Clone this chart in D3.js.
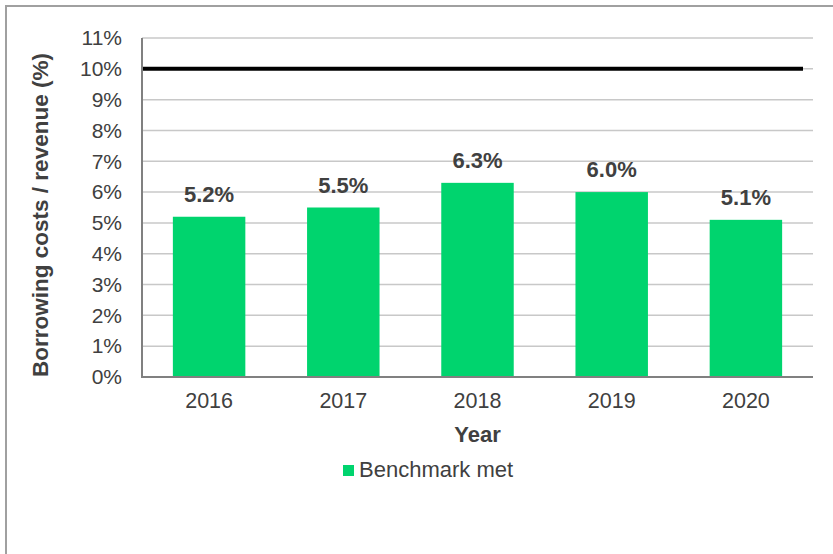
<!DOCTYPE html>
<html>
<head>
<meta charset="utf-8">
<script src="https://cdn.jsdelivr.net/npm/d3@7"></script>
<style>
  body { margin: 0; background: #fff; }
  text { font-family: "Liberation Sans", Arial, sans-serif; fill: #404040; }
</style>
</head>
<body>
<div id="chart"></div>
<script>
// data
var years = ["2016", "2017", "2018", "2019", "2020"];
var ratios = [5.2, 5.5, 6.3, 6.0, 5.1];
var benchmark = 10;
var yTicks = [0, 1, 2, 3, 4, 5, 6, 7, 8, 9, 10, 11];

var svgWidth = 833;
var svgHeight = 554;

var margin = { top: 38, right: 20, bottom: 177, left: 142 };
var width = svgWidth - margin.left - margin.right;
var height = svgHeight - margin.top - margin.bottom;

var svg = d3.select("#chart")
  .append("svg")
  .attr("width", svgWidth)
  .attr("height", svgHeight);

// outer frame (only top/left visible in the crop)
svg.append("rect")
  .attr("x", 6)
  .attr("y", 6)
  .attr("width", svgWidth + 20)
  .attr("height", svgHeight + 20)
  .attr("fill", "none")
  .attr("stroke", "#a0a0a0")
  .attr("stroke-width", 2);

var chartGroup = svg.append("g")
  .attr("transform", `translate(${margin.left}, ${margin.top})`);

var xScale = d3.scaleBand()
  .domain(years)
  .range([0, width])
  .paddingInner(0.46)
  .paddingOuter(0.23);

var yScale = d3.scaleLinear()
  .domain([0, 11])
  .range([height, 0]);

// gridlines
chartGroup.append("g")
  .selectAll("line")
  .data(yTicks.filter(d => d > 0))
  .enter()
  .append("line")
  .attr("x1", 0)
  .attr("x2", width)
  .attr("y1", d => yScale(d))
  .attr("y2", d => yScale(d))
  .attr("stroke", "#c8c8c8")
  .attr("stroke-width", 1.5);

// bars
chartGroup.selectAll(".bar")
  .data(ratios)
  .enter()
  .append("rect")
  .attr("class", "bar")
  .attr("x", (d, i) => xScale(years[i]))
  .attr("y", d => yScale(d))
  .attr("width", xScale.bandwidth())
  .attr("height", d => height - yScale(d))
  .attr("fill", "#00d46e");

// bar labels
chartGroup.selectAll(".barLabel")
  .data(ratios)
  .enter()
  .append("text")
  .attr("class", "barLabel")
  .attr("x", (d, i) => xScale(years[i]) + xScale.bandwidth() / 2)
  .attr("y", d => yScale(d) - 15)
  .attr("text-anchor", "middle")
  .style("font-size", "22px")
  .style("font-weight", "bold")
  .text(d => d.toFixed(1) + "%");

// benchmark line at 10%
chartGroup.append("line")
  .attr("x1", 0)
  .attr("x2", width - 10)
  .attr("y1", yScale(benchmark))
  .attr("y2", yScale(benchmark))
  .attr("stroke", "#000")
  .attr("stroke-width", 4);

// axes
var leftAxis = d3.axisLeft(yScale)
  .tickValues(yTicks)
  .tickSize(0)
  .tickPadding(20)
  .tickFormat(d => d + "%");

var bottomAxis = d3.axisBottom(xScale)
  .tickSize(0)
  .tickPadding(16);

var yAxisG = chartGroup.append("g").call(leftAxis);
yAxisG.select(".domain").remove();
yAxisG.selectAll("text")
  .style("font-size", "21px")
  .attr("fill", "#404040");

var xAxisG = chartGroup.append("g")
  .attr("transform", `translate(0, ${height})`)
  .call(bottomAxis);
xAxisG.select(".domain").remove();
xAxisG.selectAll("text")
  .style("font-size", "21.5px")
  .attr("fill", "#404040");

// axis lines
chartGroup.append("line")
  .attr("x1", 0).attr("x2", 0)
  .attr("y1", 0).attr("y2", height)
  .attr("stroke", "#808080")
  .attr("stroke-width", 2);
chartGroup.append("line")
  .attr("x1", -1).attr("x2", width)
  .attr("y1", height).attr("y2", height)
  .attr("stroke", "#808080")
  .attr("stroke-width", 2);

// axis titles
svg.append("text")
  .attr("transform", "rotate(-90)")
  .attr("x", -215)
  .attr("y", 48)
  .attr("text-anchor", "middle")
  .style("font-size", "22.5px")
  .style("font-weight", "bold")
  .text("Borrowing costs / revenue (%)");

svg.append("text")
  .attr("x", margin.left + width / 2)
  .attr("y", 442)
  .attr("text-anchor", "middle")
  .style("font-size", "22px")
  .style("font-weight", "bold")
  .text("Year");

// legend
var legend = svg.append("g")
  .attr("transform", "translate(343, 465)");
legend.append("rect")
  .attr("width", 11)
  .attr("height", 11)
  .attr("fill", "#00d46e");
legend.append("text")
  .attr("x", 16)
  .attr("y", 12)
  .style("font-size", "22px")
  .text("Benchmark met");
</script>
</body>
</html>
